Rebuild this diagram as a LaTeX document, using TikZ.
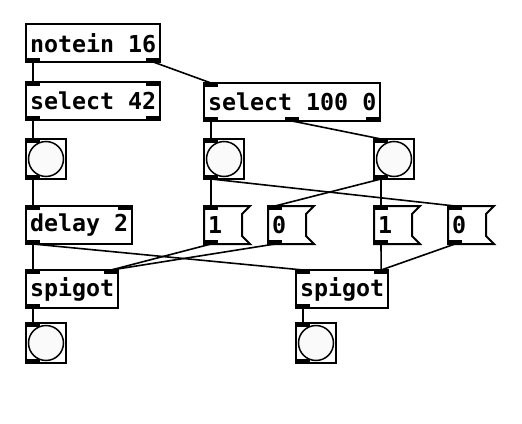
\documentclass[tikz,border=0pt]{standalone}
\usepackage{fontspec}
\newfontfamily\pdfont{DejaVu Sans Mono}
\usetikzlibrary{calc}
\newcommand{\portw}{14}
\newcommand{\porth}{4}
\newcommand{\inL}[1]{\fill (#1.north west) rectangle ++(\portw,-\porth);}
\newcommand{\inR}[1]{\fill (#1.north east) rectangle ++(-\portw,-\porth);}
\newcommand{\outL}[1]{\fill (#1.south west) rectangle ++(\portw,\porth);}
\newcommand{\outR}[1]{\fill (#1.south east) rectangle ++(-\portw,\porth);}

\begin{document}
\begin{tikzpicture}[x=1pt,y=1pt,
    obj/.style={draw, line width=2pt, anchor=north west, outer sep=0pt,
      inner xsep=4pt, inner ysep=0pt, minimum height=38pt,
      font=\pdfont\bfseries\fontsize{23.3}{28}\selectfont},
    msg/.style={obj, draw=none, text width=38pt, align=left},
    bng/.style={draw, line width=2pt, anchor=north west, outer sep=0pt,
      minimum size=40pt, inner sep=0pt,
      path picture={\draw[line width=1.5pt, fill=gray!4]
        (path picture bounding box.center) circle (17.5pt);}},
    wire/.style={line width=1.6pt}]
  \fill[white] (0,0) rectangle (522,-423);
  \useasboundingbox (0,0) rectangle (522,-423);

  % left column
  \node[obj, minimum width=134] (notein) at (26,-24) {notein 16};
  \node[obj, minimum width=134] (sel42) at (26,-82) {select 42};
  \node[bng] (bng1) at (26,-139) {};
  \node[obj, minimum width=106] (delay) at (26,-206) {delay 2};
  \node[obj, minimum width=92] (spig1) at (26,-270) {spigot};
  \node[bng] (bngA) at (26,-323) {};

  % right part
  \node[obj, minimum width=176] (sel100) at (204,-83) {select 100 0};
  \node[bng] (bng2) at (204,-139) {};
  \node[bng] (bng3) at (374,-139) {};
  \node[msg] (m1a) at (204,-206) {1};
  \node[msg] (m0a) at (268,-206) {0};
  \node[msg] (m1b) at (374,-206) {1};
  \node[msg] (m0b) at (448,-206) {0};
  \node[obj, minimum width=92] (spig2) at (296,-270) {spigot};
  \node[bng] (bngB) at (296,-323) {};

  % message flags
  \foreach \m in {m1a,m0a,m1b,m0b}
    \draw[line width=2pt, line join=miter] (\m.north west) -- (\m.north east)
      -- ++(-8,-8) -- ($(\m.south east)+(-8,8)$) -- (\m.south east)
      -- (\m.south west) -- cycle;

  % inlets and outlets
  \outL{notein} \outR{notein}
  \inL{sel42} \inR{sel42} \outL{sel42} \outR{sel42}
  \inL{delay} \inR{delay} \outL{delay}
  \inL{spig1} \inR{spig1} \outL{spig1}
  \inL{spig2} \inR{spig2} \outL{spig2}
  \inL{sel100} \outL{sel100} \outR{sel100}
  \fill ([xshift=81]sel100.south west) rectangle ++(\portw,\porth);
  \foreach \b in {bng1,bng2,bng3,bngA,bngB,m1a,m0a,m1b,m0b} {
    \inL{\b} \outL{\b}
  }

  % connections
  \draw[wire] ([xshift=7]notein.south west) -- ([xshift=7]sel42.north west);
  \draw[wire] ([xshift=-7]notein.south east) -- ([xshift=7]sel100.north west);
  \draw[wire] ([xshift=7]sel42.south west) -- ([xshift=7]bng1.north west);
  \draw[wire] ([xshift=7]bng1.south west) -- ([xshift=7]delay.north west);
  \draw[wire] ([xshift=7]delay.south west) -- ([xshift=7]spig1.north west);
  \draw[wire] ([xshift=7]delay.south west) -- ([xshift=7]spig2.north west);
  \draw[wire] ([xshift=7]sel100.south west) -- ([xshift=7]bng2.north west);
  \draw[wire] ([xshift=88]sel100.south west) -- ([xshift=7]bng3.north west);
  \draw[wire] ([xshift=7]bng2.south west) -- ([xshift=7]m1a.north west);
  \draw[wire] ([xshift=7]bng2.south west) -- ([xshift=7]m0b.north west);
  \draw[wire] ([xshift=7]bng3.south west) -- ([xshift=7]m0a.north west);
  \draw[wire] ([xshift=7]bng3.south west) -- ([xshift=7]m1b.north west);
  \draw[wire] ([xshift=7]m1a.south west) -- ([xshift=-7]spig1.north east);
  \draw[wire] ([xshift=7]m0a.south west) -- ([xshift=-7]spig1.north east);
  \draw[wire] ([xshift=7]m1b.south west) -- ([xshift=-7]spig2.north east);
  \draw[wire] ([xshift=7]m0b.south west) -- ([xshift=-7]spig2.north east);
  \draw[wire] ([xshift=7]spig1.south west) -- ([xshift=7]bngA.north west);
  \draw[wire] ([xshift=7]spig2.south west) -- ([xshift=7]bngB.north west);
\end{tikzpicture}
\end{document}
